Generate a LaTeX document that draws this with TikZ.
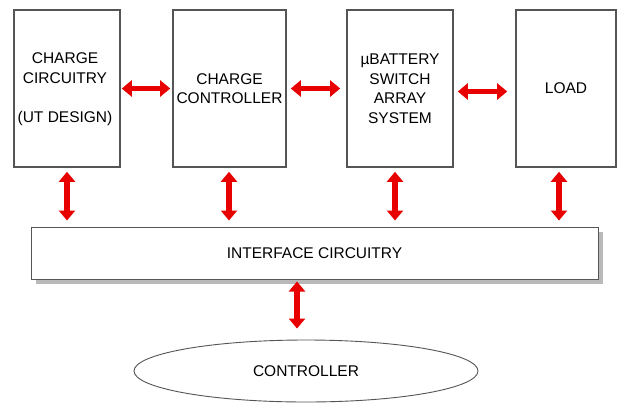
\documentclass[tikz,border=0pt]{standalone}
\usepackage{fontspec}
\setmainfont{Liberation Sans}
\usetikzlibrary{arrows.meta,shapes.geometric,calc}
\definecolor{arrred}{RGB}{232,0,0}
\definecolor{boxline}{RGB}{85,85,85}
\begin{document}
\begin{tikzpicture}[x=1pt,y=-1pt,
  every node/.style={font=\fontsize{15.5}{19.5}\selectfont, align=center, inner sep=0pt},
  blockbox/.style={draw=boxline, line width=1.6pt, fill=white, minimum height=157pt},
  ifbox/.style={draw=boxline, line width=1pt, fill=white, minimum width=567pt, minimum height=52pt},
  ctlell/.style={ellipse, draw=boxline, line width=0.9pt, minimum width=344pt, minimum height=62pt},
  fatarrow/.style={arrred, line width=5.5pt, {Triangle[width=16pt,length=10pt]}-{Triangle[width=16pt,length=10pt]}}
]
\useasboundingbox[fill=white] (0,0) rectangle (618,405);

\node[blockbox, minimum width=106pt] (b1) at (67,88.5) {};
\node at (65,89) {CHARGE\\CIRCUITRY\\\strut\\(UT DESIGN)};
\node[blockbox, minimum width=113pt] (b2) at (229.5,88.5) {CHARGE\\CONTROLLER};
\node[blockbox, minimum width=106pt] (b3) at (400,88.5) {µBATTERY\\SWITCH\\ARRAY\\SYSTEM};
\node[blockbox, minimum width=100pt] (b4) at (566,88.5) {LOAD};

\fill[gray!55] (36,232) rectangle (603,284);
\node[ifbox] (ifc) at (314.5,253) {INTERFACE CIRCUITRY};

\node[ctlell] (ctl) at (306,371) {CONTROLLER};

\draw[fatarrow, shorten <=1pt, shorten >=2pt] (b1.east) -- (b2.west);
\draw[fatarrow, shorten <=4pt, shorten >=6pt] (b2.east) -- (b3.west);
\draw[fatarrow, shorten <=4pt, shorten >=8pt] ($(b3.east)+(0,3)$) -- ($(b4.west)+(0,3)$);

\coordinate (v1) at (67,0);
\coordinate (v2) at (229,0);
\coordinate (v3) at (395,0);
\coordinate (v4) at (559,0);
\foreach \b/\v in {b1/v1,b2/v2,b3/v3,b4/v4}{
  \draw[fatarrow, shorten <=4pt, shorten >=6pt] (\b.south -| \v) -- (ifc.north -| \v);
}
\coordinate (cx) at (297,0);
\draw[fatarrow, shorten <=2pt, shorten >=11pt] (ifc.south -| cx) -- (ctl.north -| cx);
\end{tikzpicture}
\end{document}
